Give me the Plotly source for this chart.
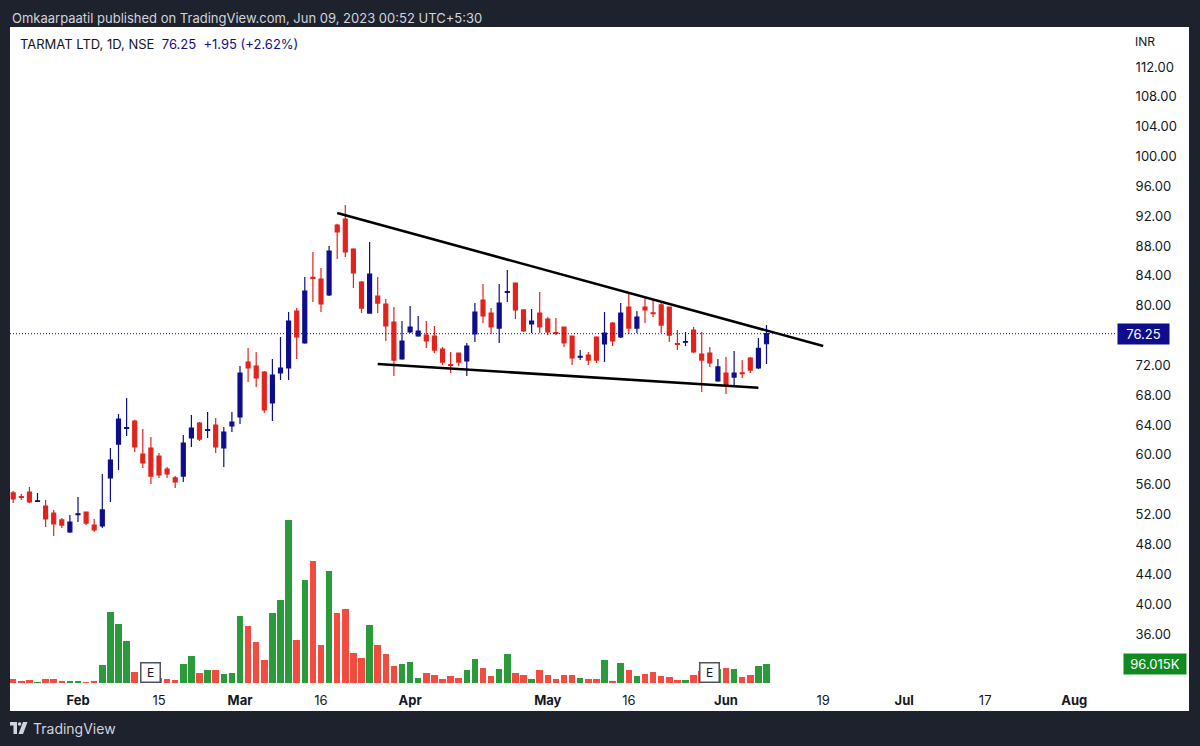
import plotly.graph_objects as go
import pandas as pd

# ---------------- data ----------------
holidays = ["2023-01-26", "2023-03-07", "2023-03-30", "2023-04-04",
            "2023-04-07", "2023-04-14", "2023-05-01"]
calendar = [d for d in pd.bdate_range("2023-01-19", "2023-08-31")
            if d.strftime("%Y-%m-%d") not in holidays]
session_pos = {d.strftime("%Y-%m-%d"): i for i, d in enumerate(calendar)}
dates = [d for d in session_pos if d <= "2023-06-08"]

opens = [54.90, 54.40, 55.03, 53.78, 53.15, 52.21, 51.28, 49.67,
         52.00, 52.35, 50.60, 50.47, 56.91, 61.46, 63.55, 64.55, 60.12, 60.93,
         59.85, 58.11, 56.91, 57.17, 62.27, 64.28, 63.30, 64.01, 60.93, 63.88,
         65.08, 72.45, 71.92, 71.11, 66.96, 70.98, 71.65, 79.29, 75.00, 83.80,
         83.58, 81.44, 90.82, 91.62, 87.60, 83.18, 79.02, 81.30, 80.23, 77.82,
         72.86, 76.48, 75.94, 76.07, 75.94, 74.20, 72.10, 73.66, 72.59, 76.21,
         80.77, 79.02, 77.01, 81.80, 83.04, 79.43, 77.55, 79.02, 78.22, 76.40,
         77.15, 75.94, 73.10, 73.39, 75.81, 74.87, 77.68, 75.81, 79.83, 77.01,
         79.83, 79.05, 80.10, 79.83, 74.92, 75.10, 76.74, 73.53, 73.66, 69.91,
         70.98, 70.44, 71.00, 72.99, 71.65, 74.90]
highs = [55.16, 54.76, 55.70, 54.90, 53.96, 52.62, 51.54, 51.95,
         54.36, 52.40, 51.41, 57.44, 60.93, 65.48, 67.63, 64.70, 63.47, 62.40,
         60.26, 58.38, 57.17, 62.67, 65.35, 64.40, 65.75, 64.95, 63.74, 65.75,
         71.92, 74.33, 73.80, 71.25, 72.86, 75.81, 79.16, 79.69, 83.85, 87.20,
         85.06, 88.00, 91.00, 93.50, 87.70, 83.30, 88.54, 83.85, 80.90, 79.83,
         77.95, 79.96, 78.62, 77.95, 77.28, 74.47, 73.80, 73.70, 75.00, 80.36,
         82.91, 79.69, 82.91, 84.79, 83.10, 79.50, 79.56, 81.84, 78.49, 78.35,
         77.20, 76.00, 74.06, 73.80, 75.90, 79.16, 77.82, 80.36, 81.84, 79.29,
         81.03, 80.77, 80.50, 79.90, 76.74, 76.48, 77.15, 76.48, 74.47, 72.86,
         73.13, 73.93, 72.72, 73.13, 75.67, 77.40]
lows = [53.55, 53.96, 53.55, 53.75, 50.34, 49.13, 50.20, 49.53,
        51.01, 50.60, 49.67, 50.20, 53.69, 57.98, 62.54, 60.39, 58.25, 56.10,
        56.91, 56.91, 55.56, 56.37, 61.06, 61.86, 62.27, 60.26, 58.38, 63.07,
        64.14, 69.77, 69.10, 65.62, 64.55, 70.04, 70.04, 72.86, 74.90, 80.50,
        79.16, 81.30, 86.26, 86.53, 82.37, 79.02, 78.95, 79.02, 75.27, 70.58,
        72.75, 76.35, 75.85, 74.33, 73.66, 72.05, 70.98, 71.92, 70.58, 75.14,
        77.68, 76.21, 75.00, 80.50, 78.22, 76.48, 76.34, 76.34, 76.07, 76.07,
        74.47, 72.05, 72.72, 72.05, 72.32, 72.45, 74.60, 75.67, 76.21, 76.34,
        77.68, 78.49, 76.34, 75.14, 74.06, 74.60, 73.66, 68.43, 71.79, 69.80,
        68.17, 69.37, 70.31, 70.98, 71.52, 72.20]
closes = [54.09, 54.30, 53.69, 53.85, 51.41, 50.74, 50.60, 51.01,
          52.10, 50.87, 49.94, 52.62, 59.32, 64.81, 63.65, 61.06, 58.92, 57.17,
          57.31, 57.44, 56.37, 61.60, 63.61, 62.13, 63.40, 61.06, 63.07, 64.41,
          70.98, 71.65, 70.31, 66.02, 70.71, 71.65, 77.95, 75.81, 81.97, 83.65,
          80.23, 87.33, 89.88, 87.20, 84.39, 79.69, 84.25, 80.36, 77.28, 72.72,
          75.27, 77.15, 76.61, 75.27, 74.06, 72.45, 72.00, 72.45, 74.60, 79.16,
          78.62, 77.15, 80.36, 81.90, 79.43, 76.61, 77.95, 77.15, 76.48, 76.30,
          75.00, 72.99, 73.20, 72.72, 72.72, 76.34, 75.27, 79.02, 77.01, 78.49,
          79.43, 78.95, 77.41, 76.07, 74.82, 75.20, 73.80, 72.72, 72.32, 71.79,
          69.37, 70.98, 70.90, 71.38, 74.30, 76.25]
volumes = [21200, 8400, 16200, 4900, 21200, 18200, 8400, 6400,
           11300, 4900, 9800, 87200, 349600, 290500, 206800, 55600, 44300, 34500,
           24600, 21200, 13300, 93600, 132900, 49200, 62500, 65500, 45800, 50000,
           329900, 283100, 201900, 113300, 344700, 408700, 802600, 211700, 507200, 600700,
           187100, 551500, 344700, 364400, 147700, 123100, 285600, 187100, 142800, 83700,
           93600, 103400, 24600, 49200, 39400, 19700, 34500, 24600, 64000, 118200,
           73900, 34500, 68900, 142800, 49200, 39400, 21200, 62500, 37900, 18200,
           40900, 40900, 24600, 19700, 19700, 111800, 11300, 97000, 65500, 34500,
           45800, 52700, 33000, 31000, 14800, 14800, 37900, 59100, 49200, 68900,
           73900, 67500, 29500, 37900, 83700, 96015]

earnings_dates = ["2023-02-14", "2023-05-30"]
upper_line_dates = ["2023-03-20", "2023-06-19"]
upper_line_prices = [92.43, 74.60]
lower_line_dates = ["2023-03-27", "2023-06-07"]
lower_line_prices = [72.19, 69.01]

price_ticks = [112, 108, 104, 100, 96, 92, 88, 84, 80, 72, 68, 64, 60, 56, 52, 48, 44, 40, 36]
time_tick_dates = ["2023-02-01", "2023-02-15", "2023-03-01", "2023-03-16", "2023-04-03",
                   "2023-05-02", "2023-05-16", "2023-06-01", "2023-06-19", "2023-07-03",
                   "2023-07-17", "2023-08-01"]
time_tick_text = ["<b>Feb</b>", "15", "<b>Mar</b>", "16", "<b>Apr</b>", "<b>May</b>", "16",
                  "<b>Jun</b>", "19", "<b>Jul</b>", "17", "<b>Aug</b>"]

# ---------------- styling ----------------
UP = "#0e0e8c"
DOWN = "#e2231d"
VOL_UP = "#2b9a3b"
VOL_DOWN = "#f24c40"
FRAME = "#1e222d"
TEXT = "#131722"
FONT = "Inter"

W, H = 1200, 746
ML, MR, MT, MB = 10, 83, 27, 63
PW, PH = W - ML - MR, H - MT - MB


def px(x):
    return (x - ML) / PW


def py(y):
    return (H - MB - y) / PH


xs = [session_pos[d] for d in dates]
vol_colors = [VOL_UP if c >= o else VOL_DOWN for o, c in zip(opens, closes)]

fig = go.Figure()
fig.add_trace(go.Bar(
    x=xs, y=volumes, yaxis="y2", marker=dict(color=vol_colors, line_width=0),
    width=0.8, hoverinfo="skip", showlegend=False))
fig.add_trace(go.Candlestick(
    x=xs, open=opens, high=highs, low=lows, close=closes,
    increasing=dict(line=dict(color=UP, width=1.2), fillcolor=UP),
    decreasing=dict(line=dict(color=DOWN, width=1.2), fillcolor=DOWN),
    whiskerwidth=0, showlegend=False, hoverinfo="skip"))

for ds, ps in ((upper_line_dates, upper_line_prices), (lower_line_dates, lower_line_prices)):
    fig.add_trace(go.Scatter(
        x=[session_pos[d] for d in ds], y=ps, mode="lines",
        line=dict(color="#000000", width=2.6), hoverinfo="skip", showlegend=False))

last_close = closes[-1]
prev_close = closes[-2]
chg = last_close - prev_close
chg_pct = chg / prev_close * 100

# x range: bar spacing 8.1 px, Feb 1 bar centred at 78 px
feb_pos = session_pos["2023-02-01"]
xmin = feb_pos + (ML - 78) / 8.1
xmax = feb_pos + (W - MR - 78) / 8.1

shapes = [
    dict(type="rect", xref="paper", yref="paper", x0=0, x1=px(1189), y0=py(711), y1=1,
         fillcolor="white", line_width=0, layer="below"),
    dict(type="line", xref="paper", yref="y", x0=0, x1=1, y0=last_close, y1=last_close,
         line=dict(color=UP, width=1, dash="1px,2px")),
    # TradingView logo
    dict(type="path", xref="paper", yref="paper",
         path=f"M {px(10)},{py(722)} L {px(17)},{py(722)} L {px(17)},{py(734)} L {px(13.5)},{py(734)} "
              f"L {px(13.5)},{py(725.5)} L {px(10)},{py(725.5)} Z",
         fillcolor="#d1d4dc", line_width=0),
    dict(type="circle", xref="paper", yref="paper", x0=px(17.8), x1=px(21.4), y0=py(725.8), y1=py(722.2),
         fillcolor="#d1d4dc", line_width=0),
    dict(type="path", xref="paper", yref="paper",
         path=f"M {px(23)},{py(722)} L {px(27.5)},{py(722)} L {px(23)},{py(734)} L {px(18.5)},{py(734)} Z",
         fillcolor="#d1d4dc", line_width=0),
]

annotations = [
    dict(xref="paper", yref="paper", x=0, y=py(17.5), xanchor="left", yanchor="middle",
         text="Omkaarpaatil published on TradingView.com, Jun 09, 2023 00:52 UTC+5:30",
         showarrow=False, font=dict(family=FONT, size=13, color="#d1d4dc")),
    dict(xref="paper", yref="paper", x=px(18), y=py(44), xanchor="left", yanchor="middle",
         text=f"TARMAT LTD, 1D, NSE&nbsp;&nbsp;<span style='color:{UP}'>{last_close:.2f}&nbsp;&nbsp;"
              f"+{chg:.2f} (+{chg_pct:.2f}%)</span>",
         showarrow=False, font=dict(family=FONT, size=13, color=TEXT)),
    dict(xref="paper", yref="paper", x=px(1133), y=py(41), xanchor="left", yanchor="middle",
         text="INR", showarrow=False, font=dict(family=FONT, size=12, color=TEXT)),
    dict(xref="paper", yref="y", x=px(1117), y=last_close, xanchor="left", yanchor="middle",
         text=f"{last_close:.2f}", showarrow=False, bgcolor=UP, width=47, borderpad=2,
         font=dict(family=FONT, size=13, color="white")),
    dict(xref="paper", yref="y2", x=px(1123), y=volumes[-1], xanchor="left", yanchor="middle",
         text=f"{volumes[-1] / 1000:.3f}K", showarrow=False, bgcolor="#128a22", width=58, borderpad=2,
         font=dict(family=FONT, size=13, color="white")),
    dict(xref="paper", yref="paper", x=px(31), y=py(728), xanchor="left", yanchor="middle",
         text="TradingView", showarrow=False, font=dict(family=FONT, size=14, color="#d1d4dc")),
]
for d in earnings_dates:
    annotations.append(dict(
        xref="x", yref="paper", x=session_pos[d], y=py(672), xanchor="center", yanchor="middle",
        text="E", showarrow=False, bgcolor="white", bordercolor="#50535e", borderwidth=1.5,
        width=15, height=15, borderpad=1.5, font=dict(family=FONT, size=12, color=TEXT)))

fig.update_layout(
    width=W, height=H,
    margin=dict(l=ML, r=MR, t=MT, b=MB, pad=0),
    paper_bgcolor=FRAME, plot_bgcolor="white",
    font=dict(family=FONT, color=TEXT, size=13),
    showlegend=False, hovermode=False, bargap=0,
    xaxis=dict(range=[xmin, xmax], showgrid=False, zeroline=False, showline=False,
               rangeslider=dict(visible=False), fixedrange=True,
               tickmode="array", tickvals=[session_pos[d] for d in time_tick_dates],
               ticktext=time_tick_text, ticks="outside", ticklen=5, tickcolor="rgba(0,0,0,0)",
               tickfont=dict(family=FONT, size=13, color=TEXT)),
    yaxis=dict(range=[112 - (H - MB - 67) / 7.46, 112 + (67 - MT) / 7.46], side="right",
               showgrid=False, zeroline=False, showline=False, fixedrange=True,
               tickmode="array", tickvals=price_ticks, ticktext=[f"{v:.2f}" for v in price_ticks],
               ticks="outside", ticklen=15, tickcolor="rgba(0,0,0,0)",
               tickfont=dict(family=FONT, size=13, color=TEXT)),
    yaxis2=dict(overlaying="y", range=[0, PH * 4924], visible=False, fixedrange=True),
    shapes=shapes, annotations=annotations,
)

fig.write_html("out.html")
